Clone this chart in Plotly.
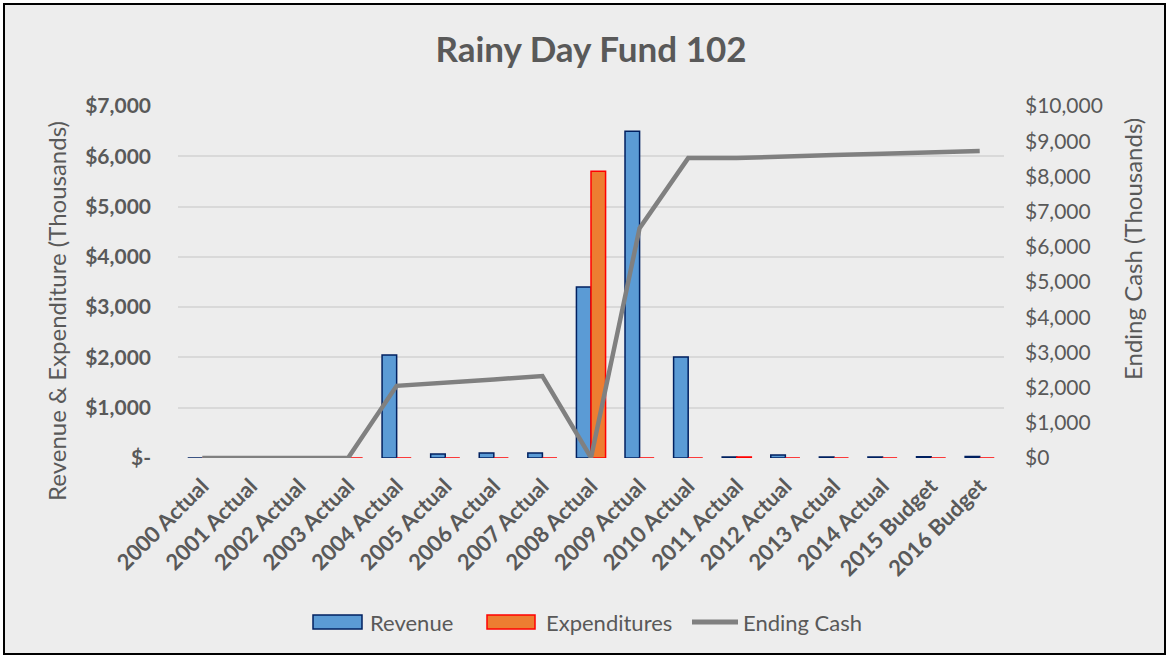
import plotly.graph_objects as go

categories = ["2000 Actual", "2001 Actual", "2002 Actual", "2003 Actual", "2004 Actual",
              "2005 Actual", "2006 Actual", "2007 Actual", "2008 Actual", "2009 Actual",
              "2010 Actual", "2011 Actual", "2012 Actual", "2013 Actual", "2014 Actual",
              "2015 Budget", "2016 Budget"]
revenue = [0, 0, 0, 0, 2050, 80, 100, 100, 3400, 6500, 2010, 20, 60, 20, 20, 25, 30]
expenditures = [0, 0, 0, 0, 0, 0, 0, 0, 5700, 0, 0, 20, 0, 0, 0, 0, 0]
ending_cash = [0, 0, 0, 0, 2050, 2130, 2230, 2330, 10, 6530, 8520, 8520, 8580, 8610, 8640, 8680, 8720]

left_ticks = [0, 1000, 2000, 3000, 4000, 5000, 6000, 7000]
left_labels = ["$-", "$1,000", "$2,000", "$3,000", "$4,000", "$5,000", "$6,000", "$7,000"]
right_ticks = [0, 1000, 2000, 3000, 4000, 5000, 6000, 7000, 8000, 9000, 10000]
right_labels = ["$0", "$1,000", "$2,000", "$3,000", "$4,000", "$5,000", "$6,000", "$7,000",
                "$8,000", "$9,000", "$10,000"]

FONT = "Lato"
TXT = "#595959"
REV_FILL, REV_LINE = "#5B9BD5", "#002060"
EXP_FILL, EXP_LINE = "#ED7D31", "#FF0000"
CASH = "#808080"
W, H = 1169, 658
ML, MR, MT, MB = 178, 165, 106, 200
pw = W - ML - MR
ph = H - MT - MB

def px_x(p):
    return (p - ML) / pw

def px_y(p):
    return (H - MB - p) / ph

fig = go.Figure()
fig.add_trace(go.Bar(x=categories, y=revenue, name="Revenue", showlegend=False,
                     marker=dict(color=REV_FILL, line=dict(color=REV_LINE, width=1.5))))
fig.add_trace(go.Bar(x=categories, y=expenditures, name="Expenditures", showlegend=False,
                     marker=dict(color=EXP_FILL, line=dict(color=EXP_LINE, width=1.5))))
fig.add_trace(go.Scatter(x=categories, y=ending_cash, name="Ending Cash", yaxis="y2", showlegend=False,
                         mode="lines", line=dict(color=CASH, width=4.5)))

shapes = [dict(type="rect", xref="paper", yref="paper", layer="below",
               x0=px_x(4), x1=px_x(W - 4), y0=px_y(H - 4), y1=px_y(4),
               fillcolor="#EDEDED", line=dict(color="black", width=2))]
# legend keys (drawn manually to match wide rectangle swatches)
shapes.append(dict(type="rect", xref="paper", yref="paper",
                   x0=px_x(313), x1=px_x(362), y0=px_y(629), y1=px_y(615),
                   fillcolor=REV_FILL, line=dict(color=REV_LINE, width=1.5)))
shapes.append(dict(type="rect", xref="paper", yref="paper",
                   x0=px_x(487), x1=px_x(535), y0=px_y(629), y1=px_y(615),
                   fillcolor=EXP_FILL, line=dict(color=EXP_LINE, width=1.5)))
shapes.append(dict(type="line", xref="paper", yref="paper",
                   x0=px_x(692), x1=px_x(738), y0=px_y(622), y1=px_y(622),
                   line=dict(color=CASH, width=5)))

annotations = [
    dict(text="Revenue", x=px_x(368), y=px_y(622), xref="paper", yref="paper",
         xanchor="left", yanchor="middle", showarrow=False, font=dict(size=22, color=TXT)),
    dict(text="Expenditures", x=px_x(544), y=px_y(622), xref="paper", yref="paper",
         xanchor="left", yanchor="middle", showarrow=False, font=dict(size=22, color=TXT)),
    dict(text="Ending Cash", x=px_x(741), y=px_y(622), xref="paper", yref="paper",
         xanchor="left", yanchor="middle", showarrow=False, font=dict(size=22, color=TXT)),
    dict(text="Revenue & Expenditure (Thousands)", x=px_x(56), y=px_y(311), xref="paper", yref="paper",
         xanchor="center", yanchor="middle", textangle=-90, showarrow=False,
         font=dict(size=24, color=TXT)),
    dict(text="Ending Cash (Thousands)", x=px_x(1132), y=px_y(249), xref="paper", yref="paper",
         xanchor="center", yanchor="middle", textangle=-90, showarrow=False,
         font=dict(size=24, color=TXT)),
]

fig.update_layout(
    width=W, height=H,
    margin=dict(l=ML, r=MR, t=MT, b=MB),
    paper_bgcolor="white",
    plot_bgcolor="rgba(0,0,0,0)",
    font=dict(family=FONT, color=TXT, size=20),
    barmode="group", bargap=0.4, bargroupgap=0,
    showlegend=False,
    title=dict(text="<b>Rainy Day Fund 102</b>", x=0.5, xref="paper", y=1 - 50 / H,
               yanchor="middle", font=dict(size=35, color=TXT, family=FONT)),
    xaxis=dict(tickangle=-45, tickfont=dict(size=22, color=TXT, family=FONT, weight="bold"),
               showgrid=False, ticks="", showline=False, zeroline=False, ticklabelstandoff=10),
    yaxis=dict(range=[0, 7000], tickvals=left_ticks, ticktext=left_labels,
               tickfont=dict(size=21, color=TXT, family=FONT, weight="bold"),
               gridcolor="#D9D9D9", gridwidth=2, zeroline=False, showline=False,
               ticklabelstandoff=26),
    yaxis2=dict(range=[0, 10000], tickvals=right_ticks, ticktext=right_labels,
                overlaying="y", side="right", showgrid=False, zeroline=False, showline=False,
                tickfont=dict(size=21, color=TXT, family=FONT),
                ticklabelstandoff=20),
    shapes=shapes,
    annotations=annotations,
)

fig.write_html("out.html", config={"displayModeBar": False},
               post_script="document.body.style.margin='0';document.body.style.overflow='hidden';")
